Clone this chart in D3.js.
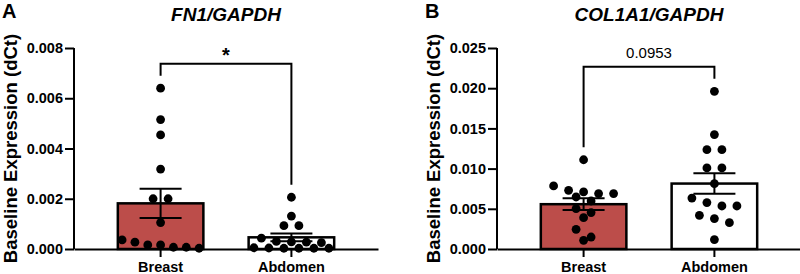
<!DOCTYPE html>
<html>
<head>
<meta charset="utf-8">
<script src="https://cdn.jsdelivr.net/npm/d3@7"></script>
<style>
  body { margin: 0; background: #fff; }
  svg { display: block; font-family: "Liberation Sans", Arial, sans-serif; }
</style>
</head>
<body>
<div id="app"></div>
<script>
// groups on the x axis
const groups = ["Breast", "Abdomen"];

// FN1/GAPDH, one value per sample
const fn1Breast = [0.0064, 0.00515, 0.00454, 0.00318, 0.0020, 0.0020, 0.00105,
                   0.00036, 0.00027, 0.00016, 0.00016, 0.00007, 0.00007, 0.00003];
const fn1Abdomen = [0.00206, 0.00131, 0.00093, 0.00093, 0.00043, 0.00030, 0.00028,
                    0.00027, 0.00025, 0.00005, 0.00004, 0.00003, 0.00003, 0.00003, 0.00003];

// COL1A1/GAPDH
const col1Breast = [0.0111, 0.00784, 0.0073, 0.0071, 0.00689, 0.00689, 0.00647,
                    0.00597, 0.00502, 0.00453, 0.0039, 0.00245, 0.00149, 0.00108];
const col1Abdomen = [0.01961, 0.01423, 0.01236, 0.01236, 0.01008, 0.01008, 0.00813,
                     0.00634, 0.00577, 0.00535, 0.00535, 0.00419, 0.00378, 0.00328, 0.00117];

const fn1Ticks = [0, 0.002, 0.004, 0.006, 0.008];
const col1Ticks = [0, 0.005, 0.010, 0.015, 0.020, 0.025];

const panels = [
  {letter: "A", title: "FN1/GAPDH", ticks: fn1Ticks, series: [fn1Breast, fn1Abdomen], sig: "*", ox: 74},
  {letter: "B", title: "COL1A1/GAPDH", ticks: col1Ticks, series: [col1Breast, col1Abdomen], sig: "0.0953", ox: 497},
];

const barFill = ["#BC4D4A", "#ffffff"];
const plotTop = 48, plotBottom = 249, plotW = 304;

const svg = d3.select("#app").append("svg")
  .attr("width", 800)
  .attr("height", 274);

// lay dots out in rows (like Prism's scatter), centred on the bar
function swarm(values, y, cx) {
  let sorted = values.map(v => ({v: v, y: y(v)})).sort((a, b) => a.y - b.y);
  let rows = [];
  sorted.forEach(p => {
    let row = rows[rows.length - 1];
    if (row && p.y - row[0].y < 9) row.push(p);
    else rows.push([p]);
  });
  let out = [];
  rows.forEach(row => {
    let n = row.length;
    let s = n > 1 ? Math.min(15, 77 / (n - 1)) : 0;
    row.forEach((p, i) => out.push({x: cx + (i - (n - 1) / 2) * s, y: p.y}));
  });
  return out;
}

panels.forEach(p => {
  let g = svg.append("g").attr("transform", `translate(${p.ox},0)`);

  let x = d3.scaleBand()
    .domain(groups)
    .range([0, plotW])
    .paddingInner(0.346)
    .paddingOuter(0.335);

  let y = d3.scaleLinear()
    .domain([0, p.ticks[p.ticks.length - 1]])
    .range([plotBottom, plotTop]);

  // bars
  let stats = p.series.map(vals => {
    let m = d3.mean(vals);
    let sem = d3.deviation(vals) / Math.sqrt(vals.length);
    return {m: m, sem: sem};
  });

  g.selectAll("rect.bar")
    .data(groups)
    .enter().append("rect")
      .attr("class", "bar")
      .attr("x", d => x(d))
      .attr("y", (d, i) => y(stats[i].m))
      .attr("width", x.bandwidth())
      .attr("height", (d, i) => y(0) - y(stats[i].m))
      .attr("fill", (d, i) => barFill[i])
      .attr("stroke", "#000")
      .attr("stroke-width", 2.5);

  // dots
  groups.forEach((grp, i) => {
    let cx = x(grp) + x.bandwidth() / 2;
    g.append("g").selectAll("circle")
      .data(swarm(p.series[i], y, cx))
      .enter().append("circle")
        .attr("cx", d => d.x)
        .attr("cy", d => d.y)
        .attr("r", 4.4)
        .attr("fill", "#000");

    // error bars (mean +/- SEM)
    let s = stats[i];
    let eb = g.append("g").attr("stroke", "#000").attr("stroke-width", 2);
    eb.append("line")
      .attr("x1", cx).attr("x2", cx)
      .attr("y1", y(s.m - s.sem)).attr("y2", y(s.m + s.sem));
    [s.m - s.sem, s.m + s.sem].forEach(v => {
      eb.append("line")
        .attr("x1", cx - 21).attr("x2", cx + 21)
        .attr("y1", y(v)).attr("y2", y(v));
    });
  });

  // axes
  let yAxis = g.append("g")
    .call(d3.axisLeft(y).tickValues(p.ticks).tickFormat(d3.format(".3f")).tickSize(9).tickPadding(2).tickSizeOuter(0));
  let xAxis = g.append("g")
    .attr("transform", `translate(0,${plotBottom})`)
    .call(d3.axisBottom(x).tickSize(8).tickPadding(5).tickSizeOuter(0));
  [yAxis, xAxis].forEach(a => {
    a.select(".domain").attr("stroke-width", 2);
    a.selectAll(".tick line").attr("stroke-width", 2);
    a.selectAll("text")
      .attr("font-family", "'Liberation Sans', Arial, sans-serif")
      .attr("font-size", 14.5)
      .attr("font-weight", "bold")
      .attr("fill", "#000");
  });
  yAxis.select(".domain").attr("d", `M0,${plotTop}V${plotBottom}`);

  // significance bracket
  let cxs = groups.map(grp => x(grp) + x.bandwidth() / 2);
  let legs = p.series.map(vals => y(d3.max(vals)) - 12.5);
  let by = Math.min(...legs) - 12;
  g.append("path")
    .attr("d", `M${cxs[0]},${legs[0]}V${by}H${cxs[1]}V${legs[1]}`)
    .attr("fill", "none")
    .attr("stroke", "#000")
    .attr("stroke-width", 2);
  let sig = g.append("text")
    .attr("x", (cxs[0] + cxs[1]) / 2)
    .attr("text-anchor", "middle")
    .text(p.sig);
  if (p.sig == "*") {
    sig.attr("y", by - 2).attr("font-size", 20).attr("font-weight", "bold");
  } else {
    sig.attr("y", by - 9).attr("font-size", 15);
  }

  // titles
  g.append("text")
    .attr("x", plotW / 2)
    .attr("y", 21)
    .attr("text-anchor", "middle")
    .attr("font-size", 19)
    .attr("font-weight", "bold")
    .attr("font-style", "italic")
    .text(p.title);

  g.append("text")
    .attr("transform", `translate(-57,${(plotTop + plotBottom) / 2}) rotate(-90)`)
    .attr("text-anchor", "middle")
    .attr("font-size", 18.5)
    .attr("font-weight", "bold")
    .text("Baseline Expression (dCt)");

  g.append("text")
    .attr("x", -72)
    .attr("y", 18)
    .attr("font-size", 20)
    .attr("font-weight", "bold")
    .text(p.letter);
});
</script>
</body>
</html>
